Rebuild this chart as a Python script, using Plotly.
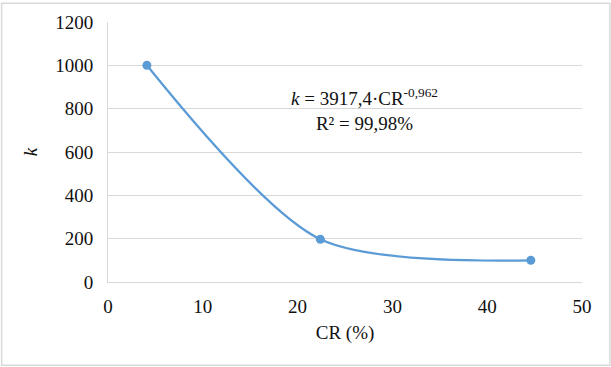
import plotly.graph_objects as go

cr = [4.1, 22.4, 44.6]
k = [1000, 197, 100]
x_ticks = [0, 10, 20, 30, 40, 50]
y_ticks = [0, 200, 400, 600, 800, 1000, 1200]

W, H = 611, 367
L, R, T, B = 107.5, 29, 20, 85
PW, PH = W - L - R, H - T - B

fig = go.Figure()
fig.add_trace(go.Scatter(
    x=cr, y=k, mode="lines+markers",
    line=dict(color="#5B9BD5", width=2.25, shape="spline", smoothing=0.8),
    marker=dict(color="#5B9BD5", size=9),
    showlegend=False,
))

font = dict(family="Liberation Serif", size=19, color="#111111")

fig.update_layout(
    width=W, height=H,
    margin=dict(l=L, r=R, t=T, b=B),
    paper_bgcolor="white", plot_bgcolor="white",
    font=font,
    xaxis=dict(range=[0, 50], tickvals=x_ticks, showgrid=False, zeroline=False,
               showline=True, linecolor="#d9d9d9", linewidth=1,
               ticks="", ticklen=0, tickfont=font, ticklabelstandoff=7,
               title=dict(text="CR (%)", font=font, standoff=9)),
    yaxis=dict(range=[0, 1200], tickvals=y_ticks, showgrid=True, gridcolor="#d9d9d9",
               gridwidth=1, zeroline=False, showline=True, linecolor="#d9d9d9",
               linewidth=1, ticks="", ticklen=0, tickfont=font, ticklabelstandoff=10,
               title=dict(text="<i>k</i>", font=font, standoff=12)),
    annotations=[dict(
        xref="paper", yref="paper",
        x=(364 - L) / PW, y=(H - B - 108) / PH,
        text="<i>k</i> = 3917,4·CR<sup>-0,962</sup><br>R² = 99,98%",
        showarrow=False, align="center", font=dict(font, size=19),
        xanchor="center", yanchor="middle",
    )],
    shapes=[dict(
        type="rect", xref="paper", yref="paper",
        x0=-(L - 1) / PW, x1=1 + (R - 1) / PW,
        y0=-(B - 1) / PH, y1=1 + (T - 1) / PH,
        line=dict(color="#d9d9d9", width=1.5), fillcolor="rgba(0,0,0,0)",
    )],
)

fig.write_html("out.html", config={"displayModeBar": False},
               post_script="document.body.style.margin='0';")
